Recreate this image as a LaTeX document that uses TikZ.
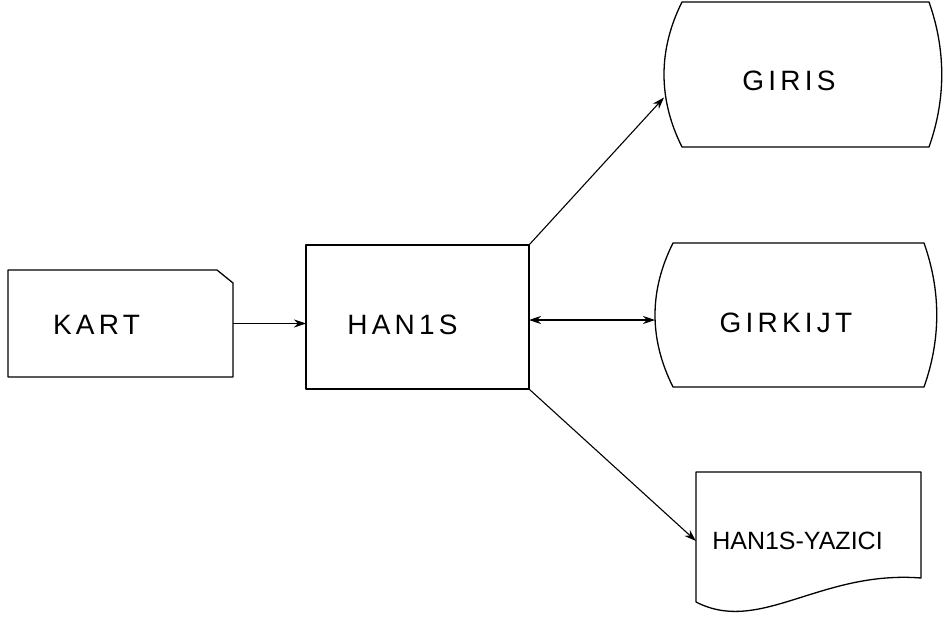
\documentclass[tikz,border=0pt]{standalone}
\usepackage{fontspec}
\newfontfamily\handfont{Liberation Sans}[LetterSpace=15]
\newfontfamily\handnarrow{Liberation Sans}
\usepackage{tikz}
\usetikzlibrary{arrows.meta, positioning, calc}

\begin{document}
\begin{tikzpicture}[
  x=1pt, y=-1pt,
  shapebox/.style={draw=none, inner sep=0pt, outer sep=0pt},
  txt/.style={font=\handfont\fontsize{28}{32}\selectfont},
  outline/.style={line width=1.3pt, line join=round},
  flow/.style={-{Stealth[length=12pt, width=8pt]}, line width=1.1pt},
  node distance=73pt,
]
\useasboundingbox (0,0) rectangle (943,618);
\node[shapebox, minimum width=225pt, minimum height=107pt,
  label={[txt, xshift=-24pt, yshift=-1pt]center:KART}] (kart) at (120.5,323.5) {};
\node[shapebox, minimum width=223pt, minimum height=144pt, right=of kart, yshift=6.5pt,
  label={[txt, xshift=-15pt, yshift=-8pt]center:HAN1S}] (hanis) {};
\node[shapebox, minimum width=282pt, minimum height=144pt, right=126pt of hanis, yshift=2pt,
  label={[txt, xshift=-10pt, yshift=-8pt]center:GIRKIJT}] (girkijt) {};
\node[shapebox, minimum width=278pt, minimum height=145pt, above=96pt of girkijt, xshift=7pt,
  label={[txt, xshift=-14pt, yshift=-6pt]center:GIRIS}] (giris) {};
\node[shapebox, minimum width=225pt, minimum height=138pt, below=85pt of girkijt, xshift=12.5pt,
  label={[txt, font=\handnarrow\fontsize{25}{30}\selectfont, xshift=-11pt]center:HAN1S-YAZICI}] (yazici) {};
% outlines
\draw[outline] (kart.north west) -- ($(kart.north east)+(-16,0)$) -- ($(kart.north east)+(0,13)$)
  -- (kart.south east) -- (kart.south west) -- cycle;
\draw[outline] (hanis.north west) rectangle (hanis.south east);
\foreach \n in {giris, girkijt} {
  \draw[outline] ($(\n.north west)+(18,0)$) -- ($(\n.north east)+(-13,0)$)
    .. controls ($(\n.north east)+(4,48)$) and ($(\n.south east)+(4,-48)$) .. ($(\n.south east)+(-13,0)$)
    -- ($(\n.south west)+(18,0)$)
    .. controls ($(\n.south west)+(-6,-48)$) and ($(\n.north west)+(-6,48)$) .. cycle;
}
\draw[outline] (yazici.north west) -- (yazici.north east) -- ($(yazici.south east)+(0,-32)$)
  .. controls ($(yazici.south east)+(-101,-40)$) and ($(yazici.south west)+(64,25)$) .. ($(yazici.south west)+(0,-8)$)
  -- cycle;
% connectors
\draw[flow] (kart.east) -- (kart.east -| hanis.west);
\draw[flow] (hanis.north east) -- ([yshift=-23pt]giris.west);
\draw[flow, {Stealth[length=12pt, width=8pt]}-{Stealth[length=12pt, width=8pt]}] ([yshift=-3pt]hanis.east) -- ([yshift=-3pt]hanis.east -| girkijt.west);
\draw[flow] (hanis.south east) -- (yazici.west);
\end{tikzpicture}
\end{document}
